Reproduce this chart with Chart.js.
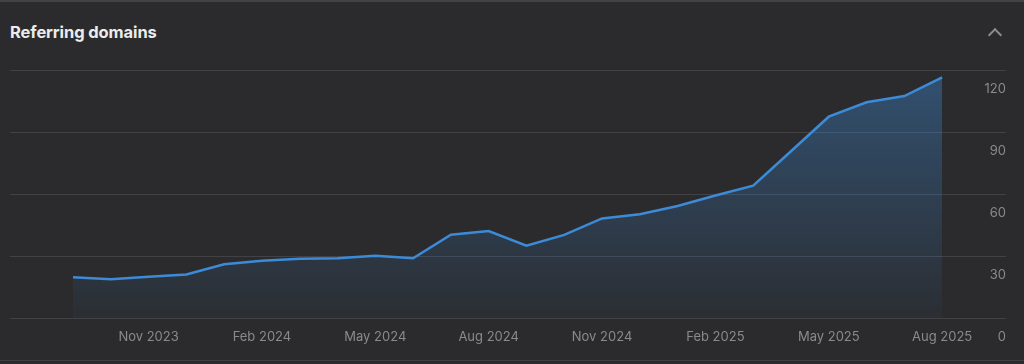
<!DOCTYPE html>
<html>
<head>
<meta charset="utf-8">
<script src="https://cdn.jsdelivr.net/npm/chart.js@4"></script>
<style>
  html, body { margin: 0; padding: 0; background: #2b2b2d; }
  body { width: 1024px; height: 364px; position: relative; overflow: hidden; font-family: Inter, "Noto Sans", sans-serif; }
  .topline { position: absolute; left: 0; top: 0; width: 1024px; height: 2px; background: #434345; }
  .bottomline { position: absolute; left: 0; top: 360px; width: 1024px; height: 1px; background: #404042; }
  .title { position: absolute; left: 10px; top: 22px; font-size: 16.5px; font-weight: 700; color: #ececec; letter-spacing: -0.1px; }
  .chev { position: absolute; left: 990px; top: 30px; width: 8px; height: 8px; border-left: 2px solid #8d8d8f; border-top: 2px solid #8d8d8f; transform: rotate(45deg); }
  #wrap { position: absolute; left: 0; top: 0; width: 1024px; height: 364px; }
</style>
</head>
<body>
<div class="topline"></div>
<div class="bottomline"></div>
<div class="title">Referring domains</div>
<div class="chev"></div>
<div id="wrap"><canvas id="domainsChart"></canvas></div>
<script>
// Monthly referring domains, Sep 2023 .. Aug 2025
const months = [
    'Sep 2023', 'Oct 2023', 'Nov 2023', 'Dec 2023', 'Jan 2024', 'Feb 2024',
    'Mar 2024', 'Apr 2024', 'May 2024', 'Jun 2024', 'Jul 2024', 'Aug 2024',
    'Sep 2024', 'Oct 2024', 'Nov 2024', 'Dec 2024', 'Jan 2025', 'Feb 2025',
    'Mar 2025', 'Apr 2025', 'May 2025', 'Jun 2025', 'Jul 2025', 'Aug 2025'
];
const domains = [
    19.7, 18.7, 20.0, 21.1, 26.0, 27.7,
    28.7, 28.9, 30.1, 28.9, 40.3, 42.1,
    35.0, 40.2, 48.2, 50.2, 54.2, 59.3,
    64.0, 80.7, 97.4, 104.4, 107.4, 116.4
];
// x-axis labels (month index into `months`)
const xTickIndex = [2, 5, 8, 11, 14, 17, 20, 23];
const xTickLabels = ['Nov 2023', 'Feb 2024', 'May 2024', 'Aug 2024', 'Nov 2024', 'Feb 2025', 'May 2025', 'Aug 2025'];
const yTicks = [0, 30, 60, 90, 120];

document.addEventListener('DOMContentLoaded', () => {
    const ctx = document.getElementById('domainsChart').getContext('2d');

    new Chart(ctx, {
        type: 'line',
        data: {
            datasets: [{
                label: 'Referring domains',
                data: domains.map((v, i) => ({ x: i, y: v })),
                borderColor: '#3d8bd8',
                borderWidth: 2.5,
                pointRadius: 0,
                tension: 0,
                fill: 'origin',
                backgroundColor: (c) => {
                    const area = c.chart.chartArea;
                    if (!area) return 'rgba(61,139,216,0.3)';
                    const g = c.chart.ctx.createLinearGradient(0, area.top, 0, area.bottom);
                    g.addColorStop(0, 'rgba(61,139,216,0.40)');
                    g.addColorStop(1, 'rgba(61,139,216,0.04)');
                    return g;
                }
            }]
        },
        options: {
            responsive: true,
            maintainAspectRatio: false,
            animation: false,
            layout: { padding: { left: 10, right: 18, top: 70, bottom: 0 } },
            plugins: { legend: { display: false }, tooltip: { enabled: false } },
            scales: {
                x: {
                    type: 'linear',
                    min: -1.667,
                    max: 24.69,
                    grid: { display: false, drawTicks: false },
                    border: { display: false },
                    afterBuildTicks: (scale) => {
                        scale.ticks = xTickIndex.map(v => ({ value: v }));
                    },
                    afterFit: (scale) => { scale.height = 46; },
                    ticks: {
                        autoSkip: false,
                        maxRotation: 0,
                        padding: 11,
                        color: '#8a8a8c',
                        font: { family: 'Inter', size: 13 },
                        callback: (value, index) => xTickLabels[index]
                    }
                },
                y: {
                    position: 'right',
                    min: 0,
                    max: 120,
                    grid: { color: '#424245', lineWidth: 1, drawTicks: false },
                    border: { display: false },
                    afterBuildTicks: (scale) => {
                        scale.ticks = yTicks.map(v => ({ value: v }));
                    },
                    ticks: {
                        mirror: true,
                        padding: 0,
                        labelOffset: 19,
                        color: '#8a8a8c',
                        font: { family: 'Inter', size: 13 }
                    }
                }
            }
        }
    });
});
</script>
</body>
</html>
